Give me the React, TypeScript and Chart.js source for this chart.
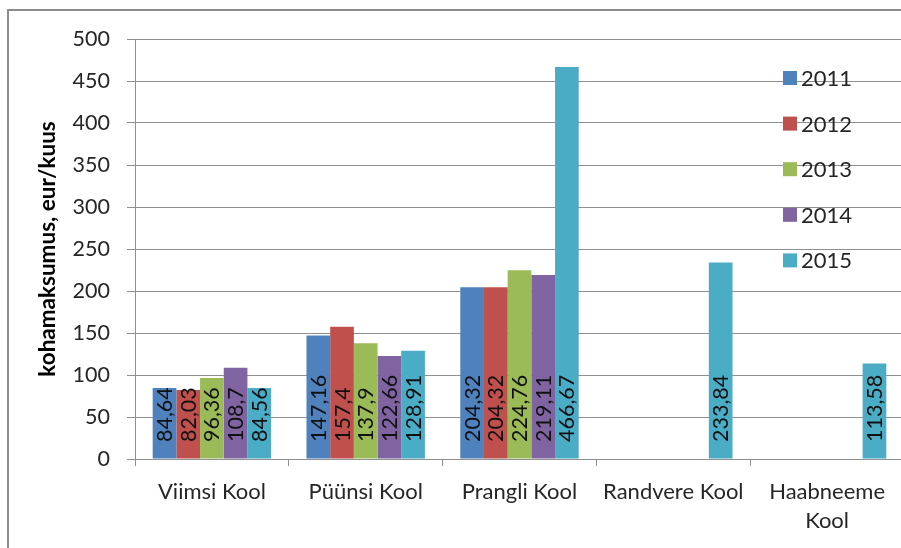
import React, { useEffect, useRef } from "react";
import { Chart, registerables } from "chart.js";

Chart.register(...registerables);

const categories: (string | string[])[] = [
  "Viimsi Kool",
  "Püünsi Kool",
  "Prangli Kool",
  "Randvere Kool",
  ["Haabneeme", "Kool"],
];

const seriesNames = ["2011", "2012", "2013", "2014", "2015"];

const values2011 = [84.64, 147.16, 204.32, null, null];
const values2012 = [82.03, 157.4, 204.32, null, null];
const values2013 = [96.36, 137.9, 224.76, null, null];
const values2014 = [108.7, 122.66, 219.11, null, null];
const values2015 = [84.56, 128.91, 466.67, 233.84, 113.58];

const seriesColors = ["#4F81BD", "#C0504D", "#9BBB59", "#8064A2", "#4BACC6"];

const yTitle = "kohamaksumus, eur/kuus";
const yMin = 0;
const yMax = 500;
const yStep = 50;

const FONT = "Lato, 'Open Sans', sans-serif";
const GRID = "#8f8f8f";
const TEXT = "#262626";

const fmt = (v: number) => String(v).replace(".", ",");

const dataLabelPlugin = {
  id: "dataLabelsInside",
  afterDatasetsDraw(chart: any) {
    const ctx = chart.ctx;
    const yScale = chart.scales.y;
    const base = yScale.getPixelForValue(0);
    ctx.save();
    ctx.font = `21.5px ${FONT}`;
    ctx.fillStyle = "#111111";
    ctx.textAlign = "left";
    ctx.textBaseline = "alphabetic";
    chart.data.datasets.forEach((ds: any, di: number) => {
      const meta = chart.getDatasetMeta(di);
      meta.data.forEach((el: any, i: number) => {
        const v = ds.data[i];
        if (v === null || v === undefined) return;
        ctx.save();
        ctx.translate(el.x, base - 17);
        ctx.rotate(-Math.PI / 2);
        ctx.fillText(fmt(v), 0, 7.5);
        ctx.restore();
      });
    });
    ctx.restore();
  },
};

const insideLegendPlugin = {
  id: "insideLegend",
  afterDraw(chart: any) {
    const ctx = chart.ctx;
    ctx.save();
    ctx.font = `22px ${FONT}`;
    ctx.textAlign = "left";
    ctx.textBaseline = "middle";
    const x0 = 783;
    const y0 = 78;
    const gap = 45.6;
    chart.data.datasets.forEach((ds: any, i: number) => {
      const cy = y0 + i * gap;
      ctx.fillStyle = ds.backgroundColor;
      ctx.fillRect(x0, cy - 7, 14, 14);
      ctx.fillStyle = TEXT;
      ctx.fillText(ds.label, x0 + 18, cy + 1);
    });
    ctx.restore();
  },
};

export default function App() {
  const canvasRef = useRef<HTMLCanvasElement | null>(null);

  useEffect(() => {
    if (!canvasRef.current) return;
    const allValues = [values2011, values2012, values2013, values2014, values2015];
    const chart = new Chart(canvasRef.current, {
      type: "bar",
      data: {
        labels: categories as any,
        datasets: seriesNames.map((name, i) => ({
          label: name,
          data: allValues[i] as any,
          backgroundColor: seriesColors[i],
          borderWidth: 0,
          categoryPercentage: 0.77,
          barPercentage: 1,
        })),
      },
      options: {
        animation: false,
        responsive: false,
        maintainAspectRatio: false,
        devicePixelRatio: 1,
        layout: { padding: { top: 39, right: 0, bottom: 0, left: 0 } },
        plugins: {
          legend: { display: false },
          tooltip: { enabled: false },
        },
        scales: {
          x: {
            grid: {
              drawOnChartArea: false,
              drawTicks: true,
              tickLength: 7,
              color: GRID,
              offset: true,
            },
            border: { display: true, color: GRID },
            ticks: {
              font: { family: FONT, size: 22, lineHeight: 1.3 },
              color: TEXT,
              padding: 12,
              maxRotation: 0,
              minRotation: 0,
              autoSkip: false,
            },
            afterFit: (s: any) => {
              s.height = 89;
            },
          },
          y: {
            min: yMin,
            max: yMax,
            ticks: {
              stepSize: yStep,
              font: { family: FONT, size: 21.5 },
              color: TEXT,
              padding: 17,
            },
            grid: { color: GRID, tickLength: 8 },
            border: { display: true, color: GRID },
            title: {
              display: true,
              text: yTitle,
              font: { family: FONT, size: 22.5, weight: "bold" },
              color: "#000",
              padding: { top: 34, bottom: 0 },
            },
            afterFit: (s: any) => {
              s.width = 135;
            },
          },
        },
      } as any,
      plugins: [dataLabelPlugin, insideLegendPlugin],
    });
    return () => chart.destroy();
  }, []);

  return (
    <div
      style={{
        position: "absolute",
        left: 0,
        top: 0,
        width: 901,
        height: 548,
        overflow: "hidden",
        background: "#fff",
      }}
    >
      <div
        style={{
          position: "absolute",
          left: 7,
          top: 9,
          width: 1000,
          height: 700,
          border: "2px solid #8c8c8c",
        }}
      />
      <canvas
        ref={canvasRef}
        width={904}
        height={548}
        style={{ position: "absolute", left: 0, top: 0, width: 904, height: 548 }}
      />
    </div>
  );
}
